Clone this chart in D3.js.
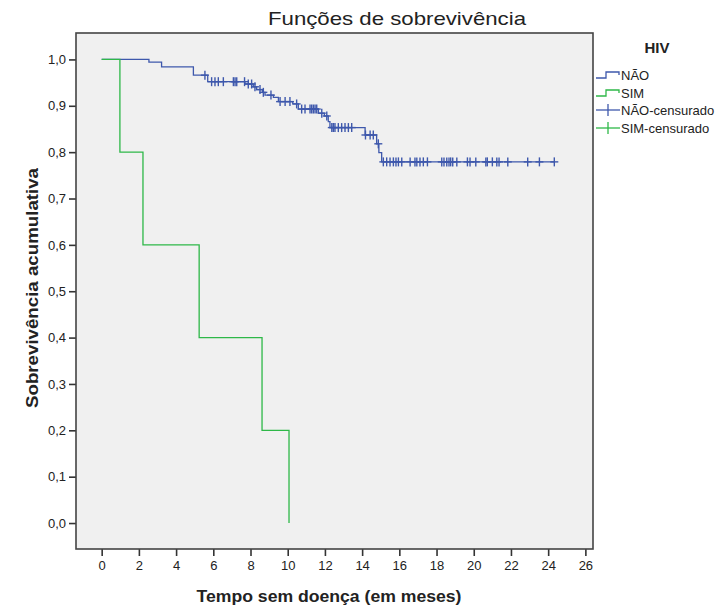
<!DOCTYPE html>
<html>
<head>
<meta charset="utf-8">
<script src="https://cdn.jsdelivr.net/npm/d3@7"></script>
<style>
  body { margin: 0; background: #fff; }
  svg text { font-family: "Liberation Sans", Arial, sans-serif; fill: #222; }
</style>
</head>
<body>
<div id="chart"></div>
<script>
// tempos (meses) e sobrevivência acumulada
const simTimes = [0, 0.98, 2.22, 5.24, 8.62, 10.07];
const simSurv  = [1.0, 0.8, 0.6, 0.4, 0.2, 0.0];

const naoTimes = [0, 2.54, 3.22, 4.93, 5.7, 7.7, 8.15, 8.33, 8.64, 8.78, 9.23, 9.5,
  10.27, 10.57, 11.65, 11.97, 12.18, 12.27, 14.16, 14.78, 14.9, 15.05];
const naoSurv  = [1.0, 0.994, 0.984, 0.966, 0.952, 0.947, 0.941, 0.935, 0.929, 0.923, 0.918, 0.909,
  0.904, 0.893, 0.884, 0.878, 0.866, 0.853, 0.837, 0.818, 0.799, 0.779];
const naoEnd = 24.35;

const naoCensored = [5.55, 5.91, 6.09, 6.27, 6.54, 7.08, 7.17, 7.26, 7.68, 7.88, 8.06, 8.24, 8.51,
  8.69, 9.1, 9.59, 9.86, 10.12, 10.48, 10.75, 10.93, 11.2, 11.29, 11.38, 11.47, 11.56, 11.83,
  12.1, 12.37, 12.45, 12.54, 12.72, 12.9, 13.08, 13.26, 13.44, 14.18, 14.43, 14.6, 14.87,
  15.14, 15.32, 15.5, 15.68, 15.82, 15.95, 16.13, 16.58, 16.84, 16.94, 17.11, 17.29, 17.51,
  18.28, 18.4, 18.55, 18.67, 18.76, 18.87, 19.09, 19.66, 19.8, 20.11, 20.65, 20.73, 21.0,
  21.24, 21.36, 21.83, 22.9, 23.53, 24.33];
const simCensored = [];

const xTicks = d3.range(0, 27, 2);
const yTicks = d3.range(0, 11).map(i => i / 10);

const legendLabels = ["NÃO", "SIM", "NÃO-censurado", "SIM-censurado"];
const blue = "#3e58ac", green = "#2eb848";

const width = 727, height = 613;
const box = {left: 76, top: 33, right: 593, bottom: 549};

let svg = d3.select("#chart").append("svg")
    .attr("width", width)
    .attr("height", height);

let x = d3.scaleLinear().domain([-1.38, 26.41]).range([box.left, box.right]);
let y = d3.scaleLinear().domain([-0.056, 1.057]).range([box.bottom, box.top]);

svg.append("rect")
    .attr("x", box.left).attr("y", box.top)
    .attr("width", box.right - box.left).attr("height", box.bottom - box.top)
    .attr("fill", "#f0f0f0");

// eixos
let fmt = d => d.toFixed(1).replace(".", ",");

let xAxis = svg.append("g")
    .attr("transform", `translate(0,${box.bottom})`)
    .call(d3.axisBottom(x).tickValues(xTicks).tickSize(7).tickPadding(5).tickSizeOuter(0));
let yAxis = svg.append("g")
    .attr("transform", `translate(${box.left},0)`)
    .call(d3.axisLeft(y).tickValues(yTicks).tickFormat(fmt).tickSize(7).tickPadding(3).tickSizeOuter(0));

[xAxis, yAxis].forEach(a => {
  a.select(".domain").remove();
  a.selectAll(".tick line").attr("stroke", "#333").attr("stroke-width", 1.6);
  a.selectAll(".tick text").style("font-size", "13px").attr("fill", "#222");
});

// moldura
svg.append("rect")
    .attr("x", box.left).attr("y", box.top)
    .attr("width", box.right - box.left).attr("height", box.bottom - box.top)
    .attr("fill", "none").attr("stroke", "#444").attr("stroke-width", 1.6);

let line = d3.line()
    .x(d => x(d[0]))
    .y(d => y(d[1]))
    .curve(d3.curveStepAfter);

let naoPts = naoTimes.map((t, i) => [t, naoSurv[i]]);
naoPts.push([naoEnd, naoSurv[naoSurv.length - 1]]);
let simPts = simTimes.map((t, i) => [t, simSurv[i]]);

function survAt(times, surv, t) {
  let i = d3.bisectRight(times, t) - 1;
  return surv[Math.max(0, i)];
}

svg.append("path").datum(naoPts)
    .attr("d", line).attr("fill", "none")
    .attr("stroke", blue).attr("stroke-width", 1.3);

svg.append("path").datum(simPts)
    .attr("d", line).attr("fill", "none")
    .attr("stroke", green).attr("stroke-width", 1.3);

function crosses(times, surv, cens, color) {
  let g = svg.append("g").attr("stroke", color).attr("stroke-width", 1.4);
  cens.forEach(t => {
    let cx = x(t), cy = y(survAt(times, surv, t));
    g.append("line").attr("x1", cx - 4).attr("x2", cx + 4).attr("y1", cy).attr("y2", cy);
    g.append("line").attr("x1", cx).attr("x2", cx).attr("y1", cy - 4.5).attr("y2", cy + 4.5);
  });
}
crosses(naoTimes, naoSurv, naoCensored, blue);
crosses(simTimes, simSurv, simCensored, green);

// títulos
svg.append("text")
    .attr("x", 397).attr("y", 25)
    .attr("text-anchor", "middle")
    .attr("textLength", 258).attr("lengthAdjust", "spacingAndGlyphs")
    .style("font-size", "19px")
    .text("Funções de sobrevivência");

svg.append("text")
    .attr("x", 329).attr("y", 602)
    .attr("text-anchor", "middle")
    .attr("textLength", 265).attr("lengthAdjust", "spacingAndGlyphs")
    .style("font-size", "17px").style("font-weight", "bold")
    .text("Tempo sem doença (em meses)");

svg.append("text")
    .attr("transform", `translate(38,288) rotate(-90)`)
    .attr("text-anchor", "middle")
    .attr("textLength", 240).attr("lengthAdjust", "spacingAndGlyphs")
    .style("font-size", "17px").style("font-weight", "bold")
    .text("Sobrevivência acumulativa");

// legenda
let leg = svg.append("g");
leg.append("text")
    .attr("x", 657).attr("y", 53)
    .attr("text-anchor", "middle")
    .style("font-size", "15px").style("font-weight", "bold")
    .text("HIV");

let legY = [75, 93, 110, 128];
legendLabels.forEach((lab, i) => {
  let color = i % 2 === 0 ? blue : green;
  let cy = legY[i];
  if (i < 2) {
    leg.append("path")
        .attr("d", `M596,${cy + 3}H606V${cy - 3}H619V${cy}`)
        .attr("fill", "none").attr("stroke", color).attr("stroke-width", 1.3);
  } else {
    leg.append("line").attr("x1", 596).attr("x2", 620).attr("y1", cy).attr("y2", cy)
        .attr("stroke", color).attr("stroke-width", 1.3);
    leg.append("line").attr("x1", 608).attr("x2", 608).attr("y1", cy - 6).attr("y2", cy + 6)
        .attr("stroke", color).attr("stroke-width", 1.3);
  }
  leg.append("text")
      .attr("x", 621).attr("y", cy + 5)
      .style("font-size", "13px")
      .text(lab);
});
</script>
</body>
</html>
